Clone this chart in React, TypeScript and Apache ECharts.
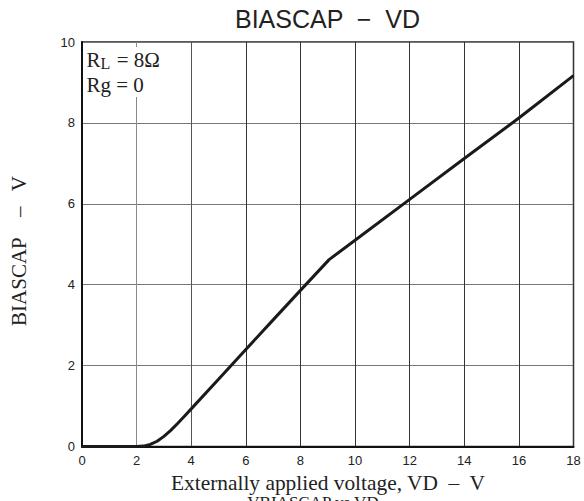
import React, { useEffect, useRef } from "react";
import * as echarts from "echarts";

const vd = [0, 2, 2.25, 2.5, 2.75, 3, 3.25, 3.5, 3.75, 4, 5, 6, 7, 8, 9.05, 10, 12, 14, 16, 18];
const biascap = [0, 0, 0.01, 0.05, 0.13, 0.25, 0.4, 0.57, 0.75, 0.93, 1.66, 2.4, 3.13, 3.86, 4.62, 5.1, 6.11, 7.12, 8.12, 9.17];

const titleText = "BIASCAP  \u2212  VD";
const xName = "Externally applied voltage, VD  \u2013  V";
const yName = "BIASCAP    \u2013   V";
const noteLine2 = "Rg = 0";
const footText = "VBIASCAP vs VD";

const SANS = "Liberation Sans, Arial, sans-serif";
const SERIF = "Liberation Serif, Times New Roman, serif";

export default function App() {
  const ref = useRef<HTMLDivElement>(null);
  useEffect(() => {
    if (!ref.current) return;
    const chart = echarts.init(ref.current, undefined, { renderer: "svg" });
    const vColors = ["#333", "#8a8a8a", "#555", "#333", "#333", "#333", "#333", "#333", "#333", "#333"];
    const note = (text: string, x: number, y: number, size = 21) => ({
      type: "text",
      x,
      y,
      z: 11,
      style: { text, font: `${size}px ${SERIF}`, lineHeight: 14, fill: "#222", align: "left", verticalAlign: "middle" },
    });
    chart.setOption({
      animation: false,
      backgroundColor: "#fff",
      grid: {
        left: 82,
        right: 10.5,
        top: 42,
        bottom: 54.5,
        show: true,
        borderColor: "#222",
        borderWidth: 1.5,
        backgroundColor: "transparent",
      },
      xAxis: {
        type: "value",
        min: 0,
        max: 18,
        interval: 2,
        axisLine: { show: true, lineStyle: { color: "#111", width: 2 } },
        axisTick: { show: false },
        axisLabel: { fontFamily: SANS, fontSize: 13, color: "#222", margin: 7 },
        splitLine: { show: true, lineStyle: { color: vColors, width: 1 } },
      },
      yAxis: {
        type: "value",
        min: 0,
        max: 10,
        interval: 2,
        axisLine: { show: true, lineStyle: { color: "#111", width: 2 } },
        axisTick: { show: false },
        axisLabel: { fontFamily: SANS, fontSize: 13, color: "#222", margin: 7 },
        splitLine: { show: true, lineStyle: { color: "#777", width: 1 } },
      },
      series: [
        {
          type: "line",
          data: vd.map((x, i) => [x, biascap[i]]),
          showSymbol: false,
          smooth: false,
          lineStyle: { color: "#1a1a1a", width: 3 },
          z: 5,
        },
      ],
      graphic: [
        {
          type: "text",
          x: 327.5,
          y: 18.5,
          style: { text: titleText, font: `25px ${SANS}`, fill: "#222", align: "center", verticalAlign: "middle" },
        },
        {
          type: "text",
          x: 328,
          y: 482.5,
          style: { text: xName, font: `21.4px ${SERIF}`, lineHeight: 20, fill: "#222", align: "center", verticalAlign: "middle" },
        },
        {
          type: "text",
          x: 19,
          y: 251,
          rotation: Math.PI / 2,
          style: { text: yName, font: `21px ${SERIF}`, fill: "#222", align: "center", verticalAlign: "middle" },
        },
        {
          type: "rect",
          shape: { x: 84, y: 47, width: 80, height: 50 },
          style: { fill: "#fff" },
          z: 10,
        },
        note("R", 86.5, 59.7),
        note("L", 100.5, 63.5, 16),
        note(" = 8\u03A9", 111.5, 59.7),
        note(noteLine2, 86.5, 84.5),
        {
          type: "text",
          x: 313,
          y: 494,
          style: { text: footText, font: `17px ${SERIF}`, lineHeight: 17, fill: "#222", align: "center", verticalAlign: "top" },
        },
      ],
    });
    return () => chart.dispose();
  }, []);
  return (
    <div
      ref={ref}
      style={{ position: "absolute", left: 0, top: 0, width: 584, height: 501 }}
    />
  );
}
